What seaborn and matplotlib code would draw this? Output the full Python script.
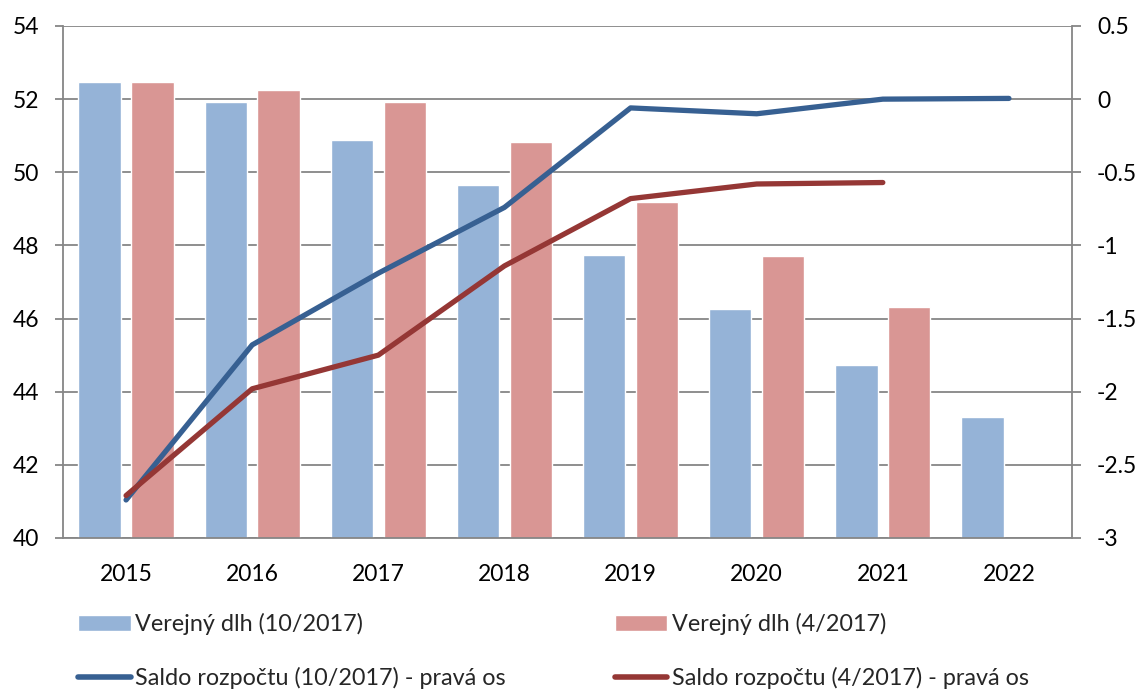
import numpy as np
import pandas as pd
import matplotlib
matplotlib.use("Agg")
import matplotlib.pyplot as plt
import seaborn as sns
from matplotlib.patches import Patch
from matplotlib.lines import Line2D

years = ["2015", "2016", "2017", "2018", "2019", "2020", "2021", "2022"]
debt_oct = [52.47, 51.92, 50.88, 49.64, 47.74, 46.26, 44.74, 43.30]
debt_apr = [52.48, 52.25, 51.91, 50.84, 49.18, 47.70, 46.33, np.nan]
bal_oct = [-2.74, -1.68, -1.19, -0.74, -0.06, -0.10, 0.00, 0.005]
bal_apr = [-2.71, -1.98, -1.75, -1.14, -0.68, -0.58, -0.57]

lab_debt_oct = "Verejný dlh (10/2017)"
lab_debt_apr = "Verejný dlh (4/2017)"
lab_bal_oct = "Saldo rozpočtu (10/2017) - pravá os"
lab_bal_apr = "Saldo rozpočtu (4/2017) - pravá os"

c_bar_blue = "#95B3D7"
c_bar_red = "#D99694"
c_line_blue = "#376092"
c_line_red = "#953735"
grid_c = "#868686"

sns.set_theme(style="white")
plt.rcParams["font.family"] = ["Lato", "DejaVu Sans"]

df = pd.DataFrame({
    "year": years * 2,
    "value": debt_oct + debt_apr,
    "series": [lab_debt_oct] * len(years) + [lab_debt_apr] * len(years),
})

W, H = 1141, 691
fig = plt.figure(figsize=(W / 100, H / 100), dpi=100)
ax = fig.add_axes([63 / W, 1 - 538 / H, (1072 - 63) / W, (538 - 26) / H])

sns.barplot(data=df, x="year", y="value", hue="series", order=years,
            hue_order=[lab_debt_oct, lab_debt_apr],
            palette=[c_bar_blue, c_bar_red], width=0.84, gap=0.2,
            saturation=1, ax=ax, legend=False, zorder=2)
ax.set_ylim(40, 54)
ax.set_yticks(np.arange(40, 55, 2))
ax.set_xlim(-0.5, len(years) - 0.5)
ax.set_xlabel("")
ax.set_ylabel("")
ax.yaxis.grid(True, color=grid_c, linewidth=1.3, zorder=0)
ax.set_axisbelow(True)
for s in ["top", "right"]:
    ax.spines[s].set_visible(False)
for s in ["left", "bottom"]:
    ax.spines[s].set_color(grid_c)
    ax.spines[s].set_linewidth(1.3)
ax.tick_params(axis="y", which="both", left=True, length=6, width=1.3,
               color=grid_c, labelsize=16.5, pad=11, labelcolor="black")
ax.tick_params(axis="x", bottom=False, labelsize=16.5, pad=13, labelcolor="black")

ax2 = ax.twinx()
x_idx = np.arange(len(years))
sns.lineplot(x=x_idx, y=bal_oct, ax=ax2, color=c_line_blue, linewidth=3.8,
             solid_capstyle="round", legend=False, zorder=3)
sns.lineplot(x=x_idx[:len(bal_apr)], y=bal_apr, ax=ax2, color=c_line_red,
             linewidth=3.8, solid_capstyle="round", legend=False, zorder=3)
ax2.set_ylim(-3, 0.5)
ax2.set_yticks(np.arange(-3, 0.51, 0.5))
ax2.set_yticklabels(["-3", "-2.5", "-2", "-1.5", "-1", "-0.5", "0", "0.5"])
ax2.set_xlim(-0.5, len(years) - 0.5)
for s in ["top", "left", "bottom"]:
    ax2.spines[s].set_visible(False)
ax2.spines["right"].set_color(grid_c)
ax2.spines["right"].set_linewidth(1.3)
ax2.tick_params(axis="y", right=True, length=6.5, width=1.3, color=grid_c,
                labelsize=16.5, pad=11.5, labelcolor="black")
ax2.grid(False)

leg_kw = dict(loc="upper left", frameon=False, fontsize=16.8,
              handlelength=2.25, handleheight=0.65, handletextpad=0.2,
              labelspacing=1.38, borderaxespad=0, borderpad=0)
h_left = [
    Patch(facecolor=c_bar_blue, label=lab_debt_oct),
    Line2D([0], [0], color=c_line_blue, linewidth=4, solid_capstyle="round", label=lab_bal_oct),
]
h_right = [
    Patch(facecolor=c_bar_red, label=lab_debt_apr),
    Line2D([0], [0], color=c_line_red, linewidth=4, solid_capstyle="round", label=lab_bal_apr),
]
fig.legend(handles=h_left, bbox_to_anchor=(78 / W, 1 - 613 / H), **leg_kw)
fig.legend(handles=h_right, bbox_to_anchor=(615 / W, 1 - 613 / H), **leg_kw)

fig.savefig("out.png", dpi=100)
